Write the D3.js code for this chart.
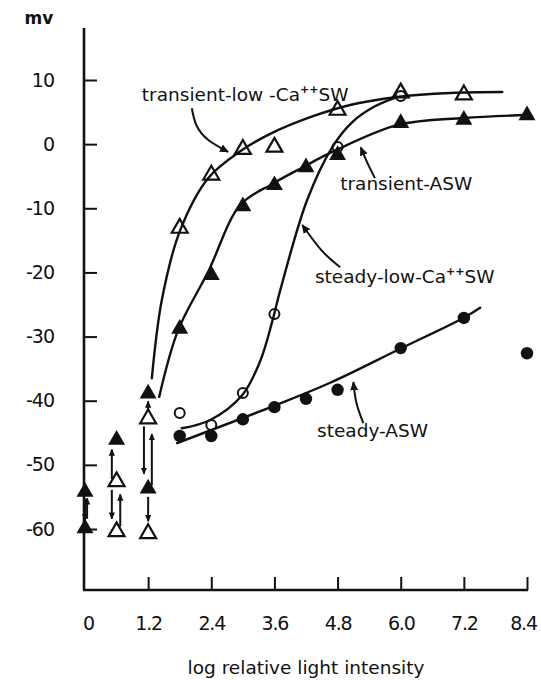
<!DOCTYPE html>
<html><head><meta charset="utf-8">
<script src="https://cdn.jsdelivr.net/npm/d3@7"></script>
<style>
body{margin:0;background:#fff}
text{font-family:"DejaVu Sans",sans-serif;fill:#111}
</style>
</head><body><svg id="c" width="541" height="680"></svg>
<script>
// ---------- data ----------
const xTicks = [0, 1.2, 2.4, 3.6, 4.8, 6.0, 7.2, 8.4];
const xTickLabels = ["0", "1.2", "2.4", "3.6", "4.8", "6.0", "7.2", "8.4"];
const yTicks = [10, 0, -10, -20, -30, -40, -50, -60];
const yTickLabels = ["10", "0", "-10", "-20", "-30", "-40", "-50", "-60"];

// measured points [log intensity, mV]
const transientLowCaPts = [[0.6,-52.6],[0.6,-60.4],[1.2,-42.8],[1.2,-60.7],[1.8,-13.1],[2.4,-4.8],[3.0,-0.8],[3.6,-0.45],[4.8,5.3],[6.0,8.0],[7.2,7.7]];
const transientASWPts = [[0,-54.2],[0,-59.9],[0.6,-46.1],[1.2,-38.9],[1.2,-53.7],[1.8,-28.8],[2.4,-20.4],[3.0,-9.7],[3.6,-6.4],[4.2,-3.6],[4.8,-1.7],[6.0,3.3],[7.2,3.8],[8.4,4.5]];
const steadyLowCaPts = [[1.8,-41.9],[2.4,-43.8],[3.0,-38.8],[3.6,-26.5],[4.8,-0.45],[6.0,7.5]];
const steadyASWPts = [[1.8,-45.5],[2.4,-45.5],[3.0,-42.9],[3.6,-41.0],[4.2,-39.7],[4.8,-38.3],[6.0,-31.8],[7.2,-27.1],[8.4,-32.6]];

// hand-fitted curves
const transientLowCaCurve = [[1.27,-36.5],[1.46,-24.3],[1.81,-13.4],[2.34,-5.3],[2.95,-1.1],[3.52,1.6],[4.28,4.2],[5.04,6.1],[5.93,7.35],[6.94,7.97],[7.93,8.12]];
const transientASWCurve = [[1.41,-39.4],[1.77,-29.0],[2.34,-19.9],[2.95,-9.5],[3.56,-6.2],[4.14,-3.6],[4.73,-1.1],[5.95,3.0],[7.19,4.07],[8.4,4.54]];
const steadyLowCaCurve = [[1.84,-44.3],[2.38,-43.0],[2.99,-39.1],[3.33,-33.8],[3.56,-27.6],[3.71,-22.8],[4.22,-8.75],[4.70,-0.45],[5.08,3.45],[5.51,5.9],[5.93,7.34]];
const steadyASWCurve = [[1.75,-46.6],[3.59,-40.8],[4.66,-37.2],[5.99,-31.9],[7.19,-27.1],[7.51,-25.5]];

// vertical arrows among low-intensity responses [x, from, to]
const clusterArrows = [[0.0,-55.3,-58.6],[0.04,-58.4,-55.2],[0.51,-52.2,-47.6],[0.51,-53.9,-58.4],[0.67,-59.6,-54.6],
  [1.12,-44.0,-51.4],[1.27,-53.2,-45.2],[1.2,-41.6,-40.1],[1.2,-55.0,-58.8]];

// labels with pointer arrows (paths in data units)
const labels = [
  {main:"transient-low -Ca", sup:"++", tail:"SW", at:[1.08,6.8]},
  {main:"transient-ASW", sup:"", tail:"", at:[4.85,-7.2]},
  {main:"steady-low-Ca", sup:"++", tail:"SW", at:[4.37,-21.7]},
  {main:"steady-ASW", sup:"", tail:"", at:[4.41,-45.7]}
];
const pointerArrows = [
  [[2.03,5.6],[2.12,2.9],[2.35,0.6],[2.72,-1.2]],
  [[5.51,-5.3],[5.36,-2.8],[5.24,-0.5]],
  [[4.85,-19.2],[4.5,-16.6],[4.13,-12.6]],
  [[5.29,-43.5],[5.16,-40.4],[5.10,-37.1]]
];

// ---------- drawing ----------
const svg = d3.select("#c");
svg.append("rect").attr("width",541).attr("height",680).attr("fill","#fff");
const x = d3.scaleLinear().domain([0, 8.4]).range([85, 527]);
const y = d3.scaleLinear().domain([-60, 10]).range([529, 80]);
const yTop = y.invert(28), yBot = y.invert(590);

const defs = svg.append("defs");
defs.append("marker").attr("id","ah").attr("viewBox","0 0 10 10").attr("refX",9).attr("refY",5)
  .attr("markerWidth",9).attr("markerHeight",9).attr("markerUnits","userSpaceOnUse").attr("orient","auto")
  .append("path").attr("d","M0,0.5 L10,5 L0,9.5 Z").attr("fill","#111");
defs.append("marker").attr("id","ahs").attr("viewBox","0 0 10 10").attr("refX",9).attr("refY",5)
  .attr("markerWidth",7).attr("markerHeight",7).attr("markerUnits","userSpaceOnUse").attr("orient","auto")
  .append("path").attr("d","M0,0.5 L10,5 L0,9.5 Z").attr("fill","#111");

// axes lines
svg.append("line").attr("x1",x(0)-1).attr("x2",x(0)-1).attr("y1",y(yTop)).attr("y2",y(yBot))
  .attr("stroke","#111").attr("stroke-width",2.6);
svg.append("line").attr("x1",x(0)-2).attr("x2",x(8.4)+1).attr("y1",y(yBot)).attr("y2",y(yBot))
  .attr("stroke","#111").attr("stroke-width",2.6);

const yAxis = d3.axisLeft(y).tickValues(yTicks).tickSize(-13).tickPadding(30)
  .tickFormat((d,i)=>yTickLabels[i]);
const gy = svg.append("g").attr("transform",`translate(${x(0)-1},0)`).call(yAxis);
gy.select(".domain").remove();
gy.selectAll(".tick line").attr("stroke","#111").attr("stroke-width",2);
gy.selectAll(".tick text").attr("font-size",19).attr("font-family","DejaVu Sans")
  .attr("letter-spacing",-1).attr("fill","#111");

const xAxis = d3.axisBottom(x).tickValues(xTicks).tickSize(-13).tickPadding(27)
  .tickFormat((d,i)=>xTickLabels[i]);
const gx = svg.append("g").attr("transform",`translate(0,${y(yBot)})`).call(xAxis);
gx.select(".domain").remove();
gx.selectAll(".tick line").attr("stroke","#111").attr("stroke-width",2)
  .attr("display",d=>d===0?"none":null);
gx.selectAll(".tick text").attr("font-size",19).attr("font-family","DejaVu Sans")
  .attr("letter-spacing",-1.2).attr("fill","#111")
  .attr("dx",d=>d===0?3:(d===8.4?-4:0));

svg.append("text").attr("x",39).attr("y",24).attr("text-anchor","middle").attr("font-size",17)
  .attr("font-weight","bold").text("mv");
svg.append("text").attr("x",306).attr("y",674).attr("text-anchor","middle").attr("font-size",18.5)
  .text("log  relative  light  intensity");

// curves
const line = d3.line().x(d=>x(d[0])).y(d=>y(d[1])).curve(d3.curveCatmullRom.alpha(0.5));
[transientLowCaCurve, transientASWCurve, steadyLowCaCurve, steadyASWCurve].forEach(c=>{
  svg.append("path").attr("d",line(c)).attr("fill","none").attr("stroke","#111")
    .attr("stroke-width",2.4).attr("stroke-linecap","round");
});

// cluster arrows
svg.selectAll(".ca").data(clusterArrows).join("line")
  .attr("x1",d=>x(d[0])).attr("x2",d=>x(d[0])).attr("y1",d=>y(d[1])).attr("y2",d=>y(d[2]))
  .attr("stroke","#111").attr("stroke-width",2).attr("marker-end","url(#ahs)");

// pointer arrows
const pline = d3.line().x(d=>x(d[0])).y(d=>y(d[1])).curve(d3.curveNatural);
pointerArrows.forEach(p=>{
  svg.append("path").attr("d",pline(p)).attr("fill","none").attr("stroke","#111")
    .attr("stroke-width",2).attr("marker-end","url(#ah)");
});

// markers
const tri = d3.symbol(d3.symbolTriangle, 125);
svg.selectAll(".tf").data(transientASWPts).join("path")
  .attr("d",tri).attr("transform",d=>`translate(${x(d[0])},${y(d[1])})`).attr("fill","#111");
svg.selectAll(".to").data(transientLowCaPts).join("path")
  .attr("d",d3.symbol(d3.symbolTriangle, 110)).attr("transform",d=>`translate(${x(d[0])},${y(d[1])})`)
  .attr("fill","none").attr("stroke","#111").attr("stroke-width",2.2).attr("stroke-linejoin","miter");
svg.selectAll(".co").data(steadyLowCaPts).join("circle")
  .attr("cx",d=>x(d[0])).attr("cy",d=>y(d[1])).attr("r",5).attr("fill","none")
  .attr("stroke","#111").attr("stroke-width",2);
svg.selectAll(".cf").data(steadyASWPts).join("circle")
  .attr("cx",d=>x(d[0])).attr("cy",d=>y(d[1])).attr("r",6.2).attr("fill","#111");

// labels
labels.forEach(l=>{
  const t = svg.append("text").attr("x",x(l.at[0])).attr("y",y(l.at[1])).attr("font-size",18.5);
  t.append("tspan").text(l.main);
  if (l.sup) {
    t.append("tspan").attr("font-size",11).attr("dy",-8).attr("font-weight","bold").text(l.sup);
    t.append("tspan").attr("dy",8).text(l.tail);
  }
});
</script>
</body></html>
